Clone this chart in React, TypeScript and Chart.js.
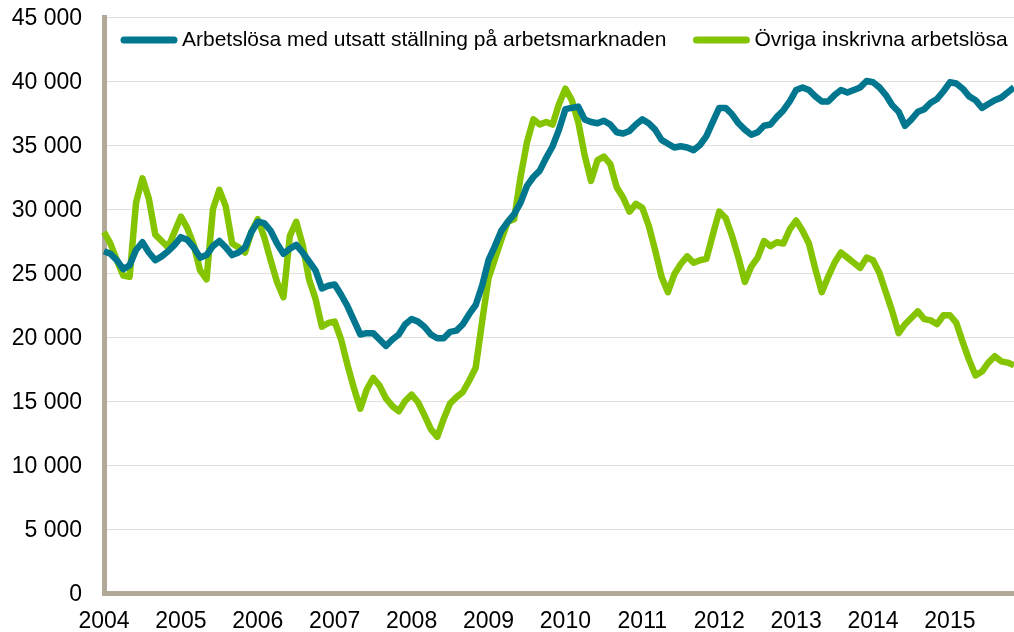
import React, { useEffect, useRef } from 'react';
import { Chart, registerables } from 'chart.js';

Chart.register(...registerables);

const yearLabels = ['2004', '2005', '2006', '2007', '2008', '2009', '2010', '2011', '2012', '2013', '2014', '2015'];
const monthCount = 143; // Jan 2004 .. Nov 2015

const seriesNames = ['Arbetslösa med utsatt ställning på arbetsmarknaden', 'Övriga inskrivna arbetslösa'];
const seriesColors = ['#00768f', '#85c400'];

const utsattStallning = [
  26700, 26500, 26000, 25300, 25600, 26800, 27400, 26600, 26000, 26300, 26700, 27200,
  27800, 27600, 27000, 26200, 26400, 27100, 27500, 27000, 26400, 26600, 27000, 28200,
  29000, 28900, 28300, 27300, 26500, 26900, 27200, 26600, 25900, 25200, 23800, 24000,
  24100, 23300, 22400, 21300, 20200, 20300, 20300, 19800, 19300, 19800, 20200, 21000,
  21400, 21200, 20800, 20200, 19900, 19900, 20400, 20500, 21000, 21800, 22500, 24000,
  26000, 27100, 28300, 29000, 29600, 30500, 31800, 32500, 33000, 34000, 34900, 36200,
  37800, 37900, 38000, 37000, 36800, 36700, 36900, 36600, 36000, 35900, 36100, 36600,
  37000, 36700, 36200, 35400, 35100, 34800, 34900, 34800, 34600, 35000, 35700, 36800,
  37900, 37900, 37400, 36700, 36200, 35800, 36000, 36500, 36600, 37200, 37700, 38400,
  39300, 39500, 39300, 38800, 38400, 38400, 38900, 39300, 39100, 39300, 39500, 40000,
  39900, 39500, 38900, 38100, 37600, 36500, 37000, 37600, 37800, 38300, 38600, 39200,
  39900, 39800, 39400, 38800, 38500, 37900, 38200, 38500, 38700, 39100, 39500,
];

const ovrigaInskrivna = [
  28200, 27300, 26000, 24800, 24700, 30500, 32400, 30800, 28000, 27500, 27000, 28200,
  29400, 28500, 27200, 25200, 24500, 30000, 31500, 30200, 27300, 27000, 26600, 28200,
  29200, 27800, 26000, 24300, 23100, 27900, 29000, 27200, 24500, 23000, 20800, 21100,
  21200, 19800, 17800, 16000, 14400, 15900, 16800, 16200, 15200, 14600, 14200, 15000,
  15500, 14900, 13900, 12800, 12200, 13600, 14800, 15300, 15700, 16600, 17600, 21200,
  24600, 26100, 27600, 29000, 29200, 32500, 35200, 37000, 36600, 36800, 36600, 38200,
  39400, 38500, 36800, 34200, 32200, 33800, 34100, 33500, 31700, 30900, 29800, 30400,
  30100, 28700, 26800, 24700, 23500, 24900, 25700, 26300, 25800, 26000, 26100, 28000,
  29800, 29300, 27900, 26200, 24300, 25500, 26200, 27500, 27100, 27400, 27300, 28400,
  29100, 28300, 27300, 25300, 23500, 24700, 25800, 26600, 26200, 25800, 25400, 26200,
  26000, 25000, 23500, 22000, 20300, 21000, 21500, 22000, 21400, 21300, 21000, 21700,
  21700, 21100, 19600, 18200, 17000, 17300, 18000, 18500, 18100, 18000, 17800,
];

const categories: string[] = Array.from({ length: monthCount }, (_, i) =>
  `${yearLabels[Math.floor(i / 12)]}-${String((i % 12) + 1).padStart(2, '0')}`
);

const FONT = '"Liberation Sans", Arial, sans-serif';
const AXIS_COLOR = '#b3a999';

const formatThousands = (v: number) =>
  v === 0 ? '0' : String(v).replace(/\B(?=(\d{3})+(?!\d))/g, ' ');

const insideLegend = {
  id: 'insideLegend',
  afterDatasetsDraw(chart: any) {
    const { ctx, chartArea } = chart;
    ctx.save();
    ctx.font = `21px ${FONT}`;
    ctx.textBaseline = 'middle';
    ctx.textAlign = 'left';
    let x = chartArea.left + 20;
    const y = chartArea.top + 23;
    chart.data.datasets.forEach((ds: any) => {
      ctx.strokeStyle = ds.borderColor;
      ctx.lineWidth = 7;
      ctx.lineCap = 'round';
      ctx.beginPath();
      ctx.moveTo(x, y);
      ctx.lineTo(x + 50, y);
      ctx.stroke();
      ctx.fillStyle = '#000';
      ctx.fillText(ds.label, x + 58, y);
      x += 58 + ctx.measureText(ds.label).width + 30;
    });
    ctx.restore();
  },
};

export default function App() {
  const canvasRef = useRef<HTMLCanvasElement | null>(null);

  useEffect(() => {
    if (!canvasRef.current) return;
    const chart = new Chart(canvasRef.current, {
      type: 'line',
      data: {
        labels: categories,
        datasets: [
          {
            label: seriesNames[0],
            data: utsattStallning,
            borderColor: seriesColors[0],
            backgroundColor: seriesColors[0],
            borderWidth: 6.5,
            pointRadius: 0,
            tension: 0,
            borderJoinStyle: 'round',
          },
          {
            label: seriesNames[1],
            data: ovrigaInskrivna,
            borderColor: seriesColors[1],
            backgroundColor: seriesColors[1],
            borderWidth: 6.5,
            pointRadius: 0,
            tension: 0,
            borderJoinStyle: 'round',
          },
        ],
      },
      options: {
        responsive: false,
        animation: false,
        devicePixelRatio: 1,
        layout: { padding: { top: 17, left: 0, right: 0, bottom: 0 } },
        plugins: {
          legend: { display: false },
          tooltip: { enabled: false },
        },
        scales: {
          x: {
            type: 'category',
            offset: false,
            grid: { display: false, drawTicks: false },
            border: { display: true, color: AXIS_COLOR, width: 5 },
            ticks: {
              autoSkip: false,
              maxRotation: 0,
              minRotation: 0,
              padding: 15,
              color: '#000',
              font: { family: FONT, size: 23 },
              callback: (_v: any, index: number) =>
                index % 12 === 0 ? yearLabels[index / 12] : '',
            },
            afterFit: (s: any) => {
              s.height = 39;
              s.paddingLeft = 0;
              s.paddingRight = 0;
            },
          },
          y: {
            min: 0,
            max: 45000,
            grid: { color: '#e2dfd7', lineWidth: 1, drawTicks: false },
            border: { display: true, color: AXIS_COLOR, width: 5 },
            ticks: {
              stepSize: 5000,
              padding: 22,
              labelOffset: 2,
              color: '#000',
              font: { family: FONT, size: 23 },
              callback: (v: any) => formatThousands(Number(v)),
            },
            afterFit: (s: any) => {
              s.width = 104;
              s.paddingTop = 0;
              s.paddingBottom = 0;
            },
          },
        },
      },
      plugins: [insideLegend],
    });
    return () => chart.destroy();
  }, []);

  return (
    <div style={{ position: 'fixed', left: 0, top: 0, width: 1014, height: 632, background: '#fff', overflow: 'hidden' }}>
      <canvas ref={canvasRef} width={1014} height={632} />
    </div>
  );
}
